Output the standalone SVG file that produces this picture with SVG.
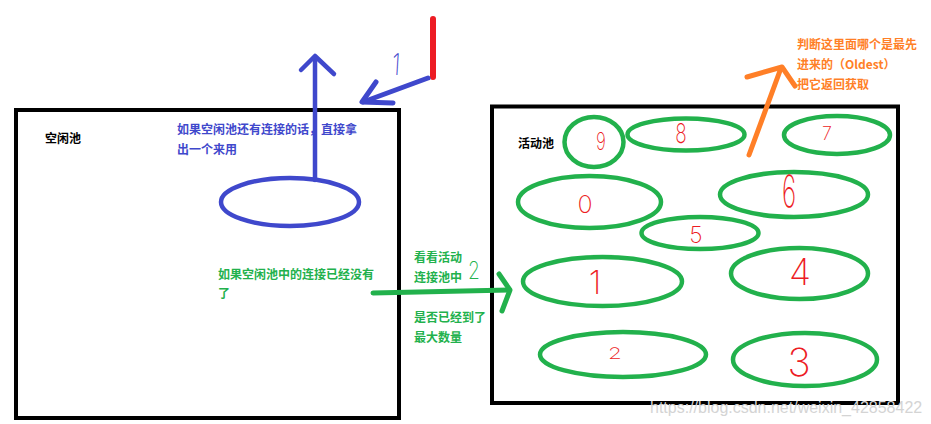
<svg xmlns="http://www.w3.org/2000/svg" width="931" height="424" viewBox="0 0 931 424">
<style>
.box{fill:none;stroke:#000;stroke-width:4}
.conn{fill:none;stroke:#22b14c;stroke-width:4.5}
.cjk{font-family:"Noto Sans CJK SC","Noto Sans",sans-serif;font-size:12px;font-weight:bold}
.blk{fill:#000}
.blu{fill:#3f48cc}
.grn{fill:#22b14c}
.org{fill:#ff7f27}
.dig{font-family:Inter,Roboto,"Liberation Sans",sans-serif;font-weight:200;fill:#ed1c24;text-anchor:middle}
.hand{font-family:Inter,Roboto,"Liberation Sans",sans-serif;font-weight:200;text-anchor:middle}
.ln{fill:none;stroke-linecap:round;stroke-linejoin:round}
</style>
<rect width="931" height="424" fill="#fff"/>

<g id="idle-pool">
<rect class="box" x="16" y="110" width="383" height="308"/>
<text class="cjk blk" x="45" y="143">空闲池</text>
<text class="cjk blu" x="177" y="134">如果空闲池还有连接的话，直接拿</text>
<text class="cjk blu" x="177" y="154">出一个来用</text>
<text class="cjk grn" x="218" y="279">如果空闲池中的连接已经没有</text>
<text class="cjk grn" x="218" y="298">了</text>
</g>

<g id="idle-connection">
<ellipse cx="290" cy="202" rx="69" ry="24" fill="none" stroke="#3f48cc" stroke-width="4.5"/>
</g>

<g id="active-pool">
<rect class="box" x="492" y="106.5" width="406" height="296.5"/>
<text class="cjk blk" x="518" y="148">活动池</text>
</g>

<g id="conn-9"><ellipse class="conn" cx="594" cy="142" rx="29.5" ry="25"/><text class="dig" x="601" y="150" font-size="24" transform="translate(601 0) scale(0.7 1) translate(-601 0)">9</text></g>
<g id="conn-8"><ellipse class="conn" cx="686" cy="134.5" rx="58.5" ry="16"/><text class="dig" x="681" y="143" font-size="27" transform="translate(681 0) scale(0.7 1) translate(-681 0)">8</text></g>
<g id="conn-7"><ellipse class="conn" cx="837" cy="135" rx="53" ry="19"/><text class="dig" x="827" y="140" font-size="18">7</text></g>
<g id="conn-0"><ellipse class="conn" cx="589.5" cy="202" rx="71.5" ry="26"/><text class="dig" x="585" y="213" font-size="25">0</text></g>
<g id="conn-6"><ellipse class="conn" cx="794" cy="194.5" rx="74" ry="22.5"/><text class="dig" x="789" y="207" font-size="44" transform="translate(789 0) scale(0.55 1) translate(-789 0)">6</text></g>
<g id="conn-5"><ellipse class="conn" cx="700" cy="233" rx="58.5" ry="16"/><text class="dig" x="696" y="243" font-size="23">5</text></g>
<g id="conn-1"><ellipse class="conn" cx="602.5" cy="281.5" rx="79.5" ry="24.5"/><text class="dig" x="595" y="294" font-size="33">1</text></g>
<g id="conn-4"><ellipse class="conn" cx="799.5" cy="273.5" rx="68.5" ry="25.5"/><text class="dig" x="800" y="285" font-size="36">4</text></g>
<g id="conn-2"><ellipse class="conn" cx="623" cy="354.5" rx="83" ry="22.5"/><text class="dig" x="615" y="359" font-size="16" transform="translate(615 0) scale(1.4 1) translate(-615 0)">2</text></g>
<g id="conn-3"><ellipse class="conn" cx="805" cy="359.5" rx="72" ry="26.5"/><text class="dig" x="799" y="376" font-size="39">3</text></g>

<g id="labels">
<text class="cjk org" x="797" y="49">判断这里面哪个是最先</text>
<text class="cjk org" x="797" y="69">进来的（Oldest）</text>
<text class="cjk org" x="797" y="88.5">把它返回获取</text>
<text class="cjk grn" x="414" y="262">看看活动</text>
<text class="cjk grn" x="414" y="282">连接池中</text>
<text class="cjk grn" x="414" y="322">是否已经到了</text>
<text class="cjk grn" x="414" y="342">最大数量</text>
<text class="hand" x="400" y="75" font-size="30" fill="#3f48cc" transform="translate(400 0) scale(0.7 1) skewX(-5) translate(-400 0)">1</text>
<text class="hand" x="474" y="279" font-size="24" fill="#22b14c" transform="translate(474 0) scale(0.8 1) translate(-474 0)">2</text>
</g>

<g id="connectors">
<line class="ln" x1="433" y1="19" x2="433" y2="77" stroke="#ed1c24" stroke-width="6"/>
<line class="ln" x1="428" y1="78" x2="363" y2="102" stroke="#3f48cc" stroke-width="5"/>
<polyline class="ln" points="376,82 362,102 393,103" stroke="#3f48cc" stroke-width="5"/>
<line class="ln" x1="315" y1="180" x2="315" y2="57" stroke="#3f48cc" stroke-width="4.5"/>
<polyline class="ln" points="301,70 315,56 334,74" stroke="#3f48cc" stroke-width="4.5"/>
<line class="ln" x1="373" y1="293" x2="509" y2="290" stroke="#22b14c" stroke-width="5"/>
<polyline class="ln" points="499,274 510,290 502,311" stroke="#22b14c" stroke-width="5"/>
<line class="ln" x1="749" y1="155" x2="781" y2="68" stroke="#ff7f27" stroke-width="5"/>
<polyline class="ln" points="747,77 782,67 795,86" stroke="#ff7f27" stroke-width="5"/>
</g>

<text x="650" y="413" font-family="'Liberation Sans',Arial,sans-serif" font-size="16" fill="#d4d4d4">https://blog.csdn.net/weixin_42858422</text>
</svg>
